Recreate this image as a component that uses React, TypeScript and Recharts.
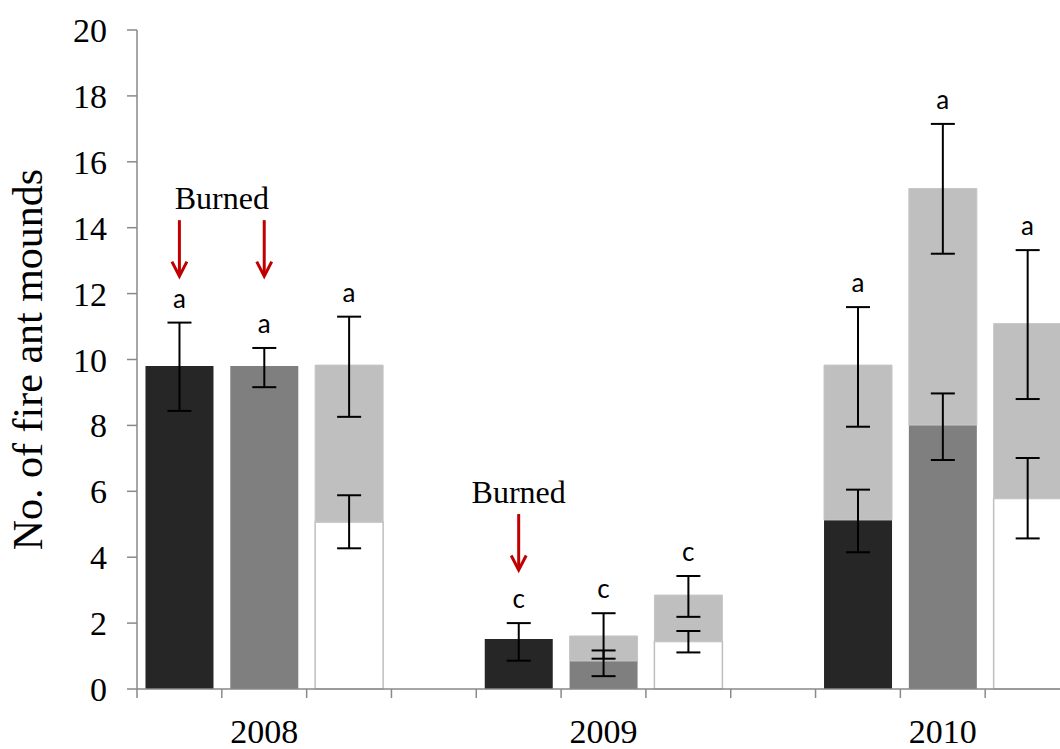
import React from 'react';
import { ComposedChart, Bar, XAxis, YAxis, ErrorBar, Scatter, Cell } from 'recharts';

// One slot per bar; the empty slots separate the years.
const categories = [
  '2008-1', '2008-2', '2008-3', 'gap-1',
  '2009-1', '2009-2', '2009-3', 'gap-2',
  '2010-1', '2010-2', '2010-3',
];
const yearLabels = ['', '2008', '', '', '', '2009', '', '', '', '2010', ''];

// Lower (treatment) segment of each bar and its error [minus, plus]
const baseValues = [9.8, 9.8, 5.07, null, 1.52, 0.85, 1.44, null, 5.13, 8.01, 5.78];
const baseErrors = [
  [1.36, 1.32], [0.64, 0.55], [0.8, 0.81], null,
  [0.66, 0.48], [0.46, 0.32], [0.33, 0.32], null,
  [0.98, 0.92], [1.06, 0.96], [1.21, 1.23],
];

// Total height of the bar (light grey cap) and its error [minus, plus]
const totalValues = [null, null, 9.83, null, null, 1.61, 2.85, null, 9.83, 15.19, 11.09];
const totalErrors = [
  null, null, [1.57, 1.47], null,
  null, [0.69, 0.69], [0.66, 0.58], null,
  [1.87, 1.76], [1.98, 1.96], [2.29, 2.23],
];

// Significance letters above each bar
const letters = ['a', 'a', 'a', '', 'c', 'c', 'c', '', 'a', 'a', 'a'];

// "Burned" arrows: slot index and the value the arrow points down to
const burnedArrowSlots = [0, 1, 4];
const burnedArrowTips = [12.53, 12.53, 3.61];
// "Burned" captions: position along the slot axis and the matching arrow tip
const burnedCaptionSlots = [1.0, 4.5];
const burnedCaptionTips = [12.53, 3.61];

const yTicks = [0, 2, 4, 6, 8, 10, 12, 14, 16, 18, 20];

const AXIS_COLOR = '#898989';
const LIGHT_GREY = '#bfbfbf';
const BASE_FILLS = ['#262626', '#7f7f7f', '#ffffff'];
const SERIF = '"Liberation Serif", "Times New Roman", serif';
const SANS = 'Lato, "Open Sans", sans-serif';

const rows = categories.map((category, i) => {
  const base = baseValues[i];
  const total = totalValues[i];
  return {
    category,
    base,
    baseErr: baseErrors[i],
    upper: base != null && total != null ? total - base : null,
    totalErr: totalErrors[i],
  };
});

const letterPoints = categories
  .map((_, i) => {
    if (!letters[i]) return null;
    const total = totalValues[i];
    const top =
      total != null
        ? total + (totalErrors[i] as number[])[1]
        : (baseValues[i] as number) + (baseErrors[i] as number[])[1];
    return { x: i + 0.5, y: top, letter: letters[i] };
  })
  .filter(Boolean) as { x: number; y: number; letter: string }[];

const arrowPoints = burnedArrowSlots.map((slot, i) => ({ x: slot + 0.5, y: burnedArrowTips[i] }));
const captionPoints = burnedCaptionSlots.map((x, i) => ({ x, y: burnedCaptionTips[i] }));

function YearTick(props: any) {
  const { x, y, payload } = props;
  const half = payload && payload.offset != null ? payload.offset : 0;
  const idx = categories.indexOf(payload.value);
  const label = idx >= 0 ? yearLabels[idx] : '';
  return (
    <g>
      <line x1={x - half} x2={x - half} y1={y} y2={y + 9} stroke={AXIS_COLOR} strokeWidth={1.5} />
      {label ? (
        <text x={x} y={y + 54} textAnchor="middle" fontSize={34} fontFamily={SERIF} fill="#000">
          {label}
        </text>
      ) : null}
    </g>
  );
}

function LetterShape(props: any) {
  const { cx, cy, payload } = props;
  return (
    <text x={cx} y={cy - 15} textAnchor="middle" fontSize={26} fontFamily={SANS} fill="#000">
      {payload.letter}
    </text>
  );
}

function ArrowShape(props: any) {
  const { cx, cy } = props;
  return (
    <g stroke="#c00000" strokeWidth={3} fill="none">
      <line x1={cx} x2={cx} y1={cy - 56} y2={cy - 1} />
      <polyline points={`${cx - 7.5},${cy - 14.5} ${cx},${cy} ${cx + 7.5},${cy - 14.5}`} />
    </g>
  );
}

function CaptionShape(props: any) {
  const { cx, cy } = props;
  return (
    <text x={cx} y={cy - 67} textAnchor="middle" fontSize={32} fontFamily={SERIF} fill="#000">
      Burned
    </text>
  );
}

function YTitle(props: any) {
  const vb = props.viewBox || { x: 0, y: 0, width: 0, height: 0 };
  const x = vb.x + 42;
  const y = vb.y + vb.height / 2;
  return (
    <text
      x={x}
      y={y}
      transform={`rotate(-90, ${x}, ${y})`}
      textAnchor="middle"
      fontSize={42}
      fontFamily={SERIF}
      fill="#000"
    >
      No. of fire ant mounds
    </text>
  );
}

export default function App() {
  return (
    <div
      style={{
        position: 'absolute',
        left: 0,
        top: 0,
        width: 1060,
        height: 749,
        overflow: 'hidden',
        background: '#fff',
      }}
    >
      <ComposedChart
        width={1080}
        height={749}
        data={rows}
        margin={{ top: 30, right: 10, bottom: 0, left: 0 }}
        barCategoryGap="10%"
      >
        <XAxis
          xAxisId="cat"
          dataKey="category"
          type="category"
          interval={0}
          height={60}
          tickLine={false}
          tickSize={0}
          tickMargin={0}
          axisLine={{ stroke: AXIS_COLOR, strokeWidth: 1.5 }}
          tick={<YearTick />}
        />
        <XAxis xAxisId="num" dataKey="x" type="number" domain={[0, 11]} allowDataOverflow hide />
        <YAxis
          domain={[0, 20]}
          ticks={yTicks}
          interval={0}
          width={137}
          tickSize={10}
          tickMargin={20}
          axisLine={{ stroke: AXIS_COLOR, strokeWidth: 1.5 }}
          tickLine={{ stroke: AXIS_COLOR, strokeWidth: 1.5 }}
          tick={{ fontSize: 34, fontFamily: SERIF, fill: '#000' }}
          label={{ content: <YTitle /> }}
        />
        <Bar xAxisId="cat" dataKey="base" stackId="s" isAnimationActive={false}>
          {rows.map((_, i) => {
            const fill = BASE_FILLS[i % 4] || '#ffffff';
            const isWhite = fill === '#ffffff';
            return (
              <Cell
                key={i}
                fill={fill}
                stroke={isWhite ? LIGHT_GREY : 'none'}
                strokeWidth={isWhite ? 1.5 : 0}
              />
            );
          })}
          <ErrorBar dataKey="baseErr" width={12} strokeWidth={2} stroke="#000" />
        </Bar>
        <Bar
          xAxisId="cat"
          dataKey="upper"
          stackId="s"
          fill={LIGHT_GREY}
          stroke="#c6c6c6"
          strokeWidth={1}
          isAnimationActive={false}
        >
          <ErrorBar dataKey="totalErr" width={12} strokeWidth={2} stroke="#000" />
        </Bar>
        <Scatter
          xAxisId="num"
          data={letterPoints}
          dataKey="y"
          shape={<LetterShape />}
          isAnimationActive={false}
        />
        <Scatter
          xAxisId="num"
          data={arrowPoints}
          dataKey="y"
          shape={<ArrowShape />}
          isAnimationActive={false}
        />
        <Scatter
          xAxisId="num"
          data={captionPoints}
          dataKey="y"
          shape={<CaptionShape />}
          isAnimationActive={false}
        />
      </ComposedChart>
    </div>
  );
}
